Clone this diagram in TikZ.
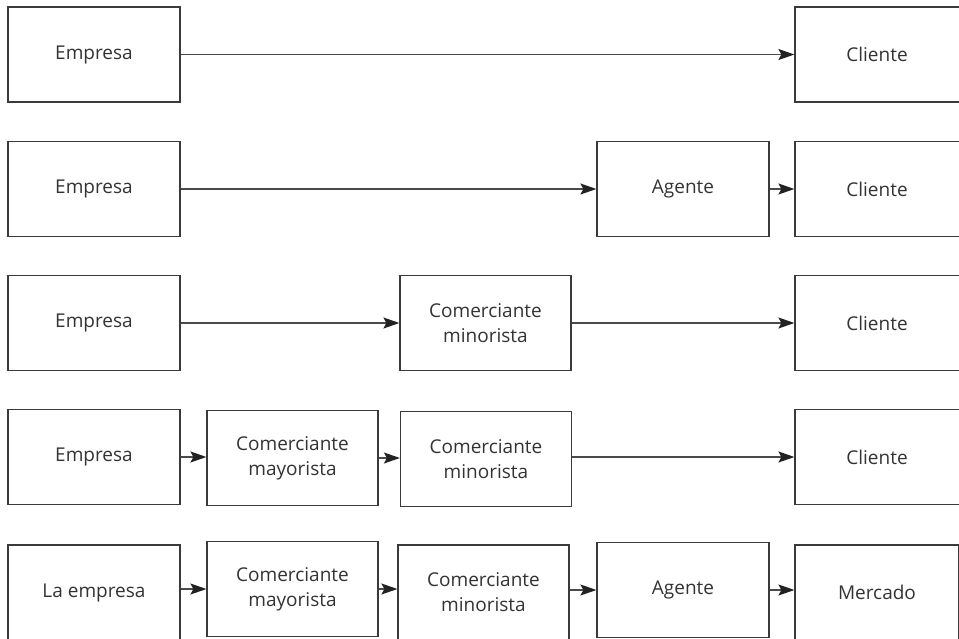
\documentclass[tikz,border=0pt]{standalone}
\usepackage{fontspec}
\setmainfont{Open Sans}
\usetikzlibrary{arrows.meta}
\definecolor{linec}{HTML}{3A3A3A}
\definecolor{arrc}{HTML}{4A4A4A}
\definecolor{headc}{HTML}{222222}
\definecolor{textc}{HTML}{333333}
\begin{document}
\begin{tikzpicture}[x=1pt,y=-1pt,
  lbl/.style={text=textc,font=\fontsize{19}{25}\selectfont,align=center},
  box/.style={draw=linec,line width=1.2pt,rectangle,minimum height=95pt,inner sep=0pt,
    lbl,anchor=center},
  wA/.style={box,minimum width=172pt},
  flow/.style={draw=arrc,line width=1.3pt,-{Stealth[length=16pt,width=11pt,inset=3pt,fill=headc,color=headc]}}]
\useasboundingbox (0,0) rectangle (959,638);
% Row 1
\node[wA] (e1) at (94,54.5) {Empresa};
\node[box,minimum width=170pt] (c1) at (880,54.5) {};
\node[lbl] (c1t) at (877,54.5) {Cliente};
\draw[flow] (e1) -- (c1);
% Row 2
\node[wA] (e2) at (94,189) {Empresa};
\node[box,minimum width=172pt] (a2) at (683,189) {Agente};
\node[box,minimum width=170pt] (c2) at (880,189) {};
\node[lbl] (c2t) at (877,189) {Cliente};
\draw[flow] (e2) -- (a2);
\draw[flow] (a2) -- (c2);
% Row 3
\node[wA] (e3) at (94,323) {Empresa};
\node[box,minimum width=171pt] (m3) at (485.5,323) {Comerciante\\minorista};
\node[box,minimum width=170pt] (c3) at (880,323) {};
\node[lbl] (c3t) at (877,323) {Cliente};
\draw[flow] (e3) -- (m3);
\draw[flow] (m3) -- (c3);
% Row 4
\node[wA] (e4) at (94,457) {Empresa};
\node[box,minimum width=171pt] (w4) at (292.5,458) {Comerciante\\mayorista};
\node[box,minimum width=171pt] (m4) at (486,459) {Comerciante\\minorista};
\node[box,minimum width=170pt] (c4) at (880,457) {};
\node[lbl] (c4t) at (877,457) {Cliente};
\draw[flow] (e4.east) -- (w4.west|-e4.east);
\draw[flow] (w4.east) -- (m4.west|-w4.east);
\draw[flow] (m4.east|-e4.east) -- (c4.west|-e4.east);
% Row 5
\node[wA] (e5) at (94,592.5) {La empresa};
\node[box,minimum width=171pt] (w5) at (292.5,589) {Comerciante\\mayorista};
\node[box,minimum width=171pt] (m5) at (483.5,592.5) {Comerciante\\minorista};
\node[box,minimum width=172pt] (a5) at (683,590) {Agente};
\node[box,minimum width=164pt] (k5) at (877,592.5) {Mercado};
\draw[flow] (e5.east|-w5.east) -- (w5.west);
\draw[flow] (w5.east) -- (m5.west|-w5.east);
\draw[flow] (m5.east|-a5.east) -- (a5.west);
\draw[flow] (a5.east) -- (k5.west|-a5.east);
\end{tikzpicture}
\end{document}
